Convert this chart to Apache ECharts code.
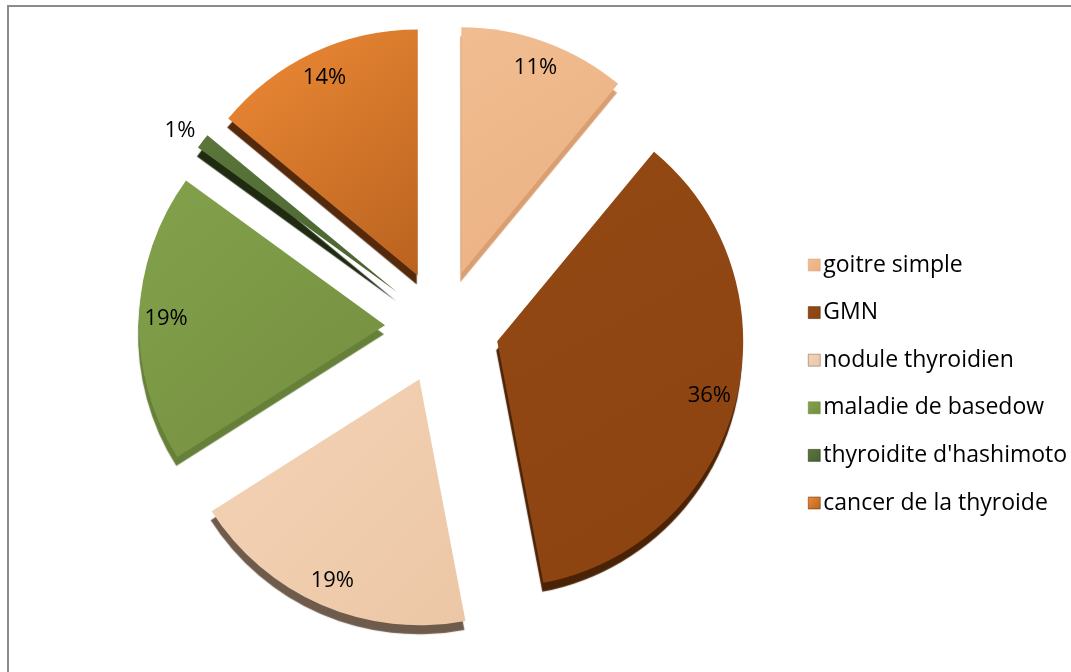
<!DOCTYPE html>
<html>
<head>
<meta charset="utf-8">
<script src="https://cdn.jsdelivr.net/npm/echarts@6/dist/echarts.min.js"></script>
<style>
  html, body { margin: 0; padding: 0; background: #ffffff; }
  #frame { position: absolute; left: 7px; top: 5px; width: 1100px; height: 700px;
           border-left: 2px solid #8c8c8c; border-top: 2px solid #8c8c8c; }
  #chart { position: absolute; left: 0; top: 0; width: 1071px; height: 672px; }
</style>
</head>
<body>
<div id="frame"></div>
<div id="chart"></div>
<script>
// Répartition des pathologies thyroïdiennes (%)
const categories = ['goitre simple', 'GMN', 'nodule thyroidien', 'maladie de basedow', "thyroidite d'hashimoto", 'cancer de la thyroide'];
const values = [11, 36, 19, 19, 1, 14];

// top face gradient (light -> dark) and extruded side colour for each slice
const topLight = ['#f1bd90', '#944914', '#f3d3b5', '#83a14b', '#5a763b', '#ee8b36'];
const topDark  = ['#eab083', '#8b4310', '#ecc7a6', '#748f40', '#4a6330', '#b9621f'];
const sideCol  = ['#d99f72', '#4a2306', '#6f5b4b', '#66803a', '#1f2a10', '#55290b'];

const FONT = '"Open Sans"';
const CENTER = [442, 327];
const OFFSET = 57;

function grad(i) {
  return new echarts.graphic.LinearGradient(0, 0, 1, 1, [
    { offset: 0, color: topLight[i] },
    { offset: 1, color: topDark[i] }
  ]);
}

const sliceData = categories.map((name, i) => ({
  name: name,
  value: values[i],
  selected: true,
  itemStyle: {
    color: grad(i),
    shadowColor: sideCol[i],
    shadowBlur: 1,
    shadowOffsetX: -1,
    shadowOffsetY: 9
  }
}));

// transparent ring carrying the percentage labels
const labelData = categories.map((name, i) => {
  const item = { name: name, value: values[i], selected: true };
  if (values[i] < 5) {
    item.label = { position: 'outside', padding: [0, -12, 50, 0] };
    item.labelLine = { show: false, length: 22, length2: 0 };
  }
  return item;
});

const chart = echarts.init(document.getElementById('chart'), null, { renderer: 'canvas' });
chart.setOption({
  animation: false,
  backgroundColor: 'transparent',
  legend: {
    orient: 'vertical',
    left: 803,
    top: 248,
    itemWidth: 12,
    itemHeight: 12,
    itemGap: 23.6,
    icon: 'rect',
    selectedMode: false,
    textStyle: { fontFamily: FONT, fontSize: 23, color: '#000', lineHeight: 24, padding: [0, 0, 0, -2] },
    data: categories.map((name, i) => ({ name: name, itemStyle: { color: grad(i), borderColor: sideCol[i], borderWidth: 0.5 } }))
  },
  series: [
    {
      type: 'pie',
      center: CENTER,
      radius: [0, 246],
      startAngle: 90,
      clockwise: true,
      selectedMode: 'multiple',
      selectedOffset: OFFSET,
      avoidLabelOverlap: false,
      silent: true,
      label: { show: false },
      labelLine: { show: false },
      data: sliceData
    },
    {
      type: 'pie',
      center: CENTER,
      radius: [190, 242],
      startAngle: 90,
      clockwise: true,
      selectedMode: 'multiple',
      selectedOffset: OFFSET,
      avoidLabelOverlap: false,
      silent: true,
      itemStyle: { color: 'rgba(0,0,0,0)' },
      label: {
        show: true,
        position: 'inside',
        formatter: p => p.value + '%',
        fontFamily: FONT,
        fontSize: 22,
        color: '#000'
      },
      labelLine: { show: false },
      data: labelData
    }
  ]
});
</script>
</body>
</html>
